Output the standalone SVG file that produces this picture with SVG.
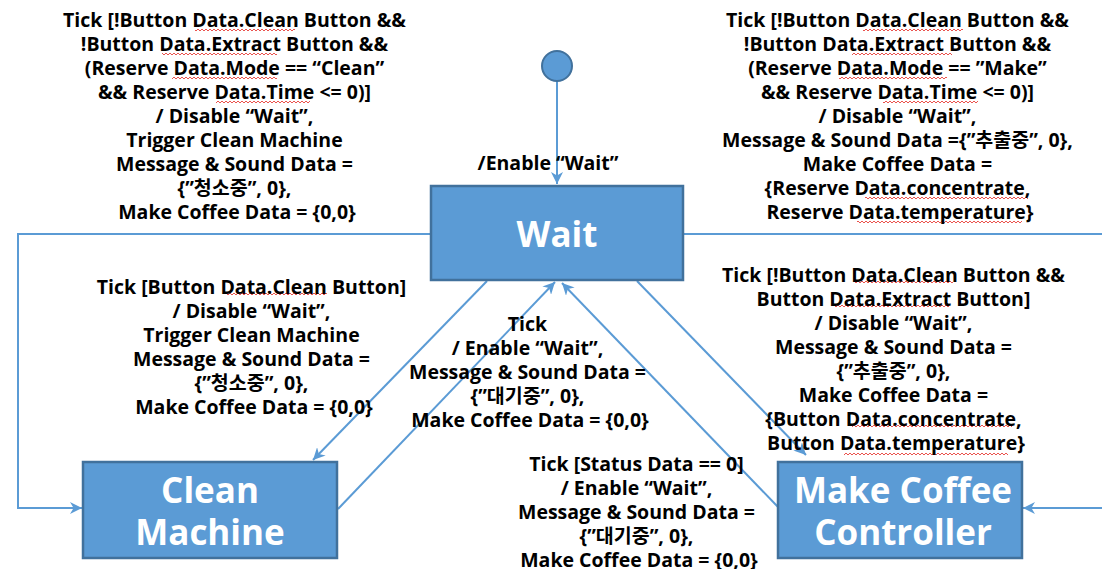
<svg xmlns="http://www.w3.org/2000/svg" width="1102" height="569" viewBox="0 0 1102 569">
<style>
.lbl{font-family:"Open Sans","Noto Sans CJK KR",sans-serif;font-weight:bold;font-size:19.5px;fill:#000;text-anchor:middle}
.node{fill:#5B9BD5;stroke:#41719C;stroke-width:2.5}
.ntxt{font-family:"Open Sans","Noto Sans CJK KR",sans-serif;font-weight:bold;font-size:35px;fill:#fff;text-anchor:middle}
.conn{fill:none;stroke:#5B9BD5;stroke-width:2}
.sq{fill:url(#wv)}
</style>
<defs>
<marker id="ah" markerWidth="12" markerHeight="12" refX="10" refY="5" orient="auto" markerUnits="userSpaceOnUse" viewBox="0 0 10 10">
<path d="M0,0 L10,5 L0,10 L3,5 z" fill="#5B9BD5"/>
</marker>
<pattern id="wv" x="0" y="0" width="4" height="4" patternUnits="userSpaceOnUse">
<path d="M0,3 L2,1 L4,3" fill="none" stroke="#E8403A" stroke-width="0.9"/>
</pattern>
</defs>
<rect width="1102" height="569" fill="#fff"/>
<g id="connectors">
<path class="conn" d="M557,81 V184" marker-end="url(#ah)"/>
<path class="conn" d="M431,234 H18 V508 H82" marker-end="url(#ah)"/>
<path class="conn" d="M683,234 H1102"/>
<path class="conn" d="M1102,508 H1023" marker-end="url(#ah)"/>
<path class="conn" d="M487,281 L313,460" marker-end="url(#ah)"/>
<path class="conn" d="M338,509 L555,282" marker-end="url(#ah)"/>
<path class="conn" d="M637,281 L806,455" marker-end="url(#ah)"/>
<path class="conn" d="M778,507 L562,283" marker-end="url(#ah)"/>
</g>
<g id="init">
<circle cx="557" cy="66" r="15" fill="#5B9BD5" stroke="#41719C" stroke-width="2"/>
</g>
<g id="wait">
<rect class="node" x="431" y="186" width="252" height="94"/>
<text class="ntxt" x="557" y="247">Wait</text>
</g>
<g id="clean">
<rect class="node" x="83" y="462" width="254" height="96"/>
<text class="ntxt" x="210" y="503">Clean</text>
<text class="ntxt" x="210" y="545">Machine</text>
</g>
<g id="make">
<rect class="node" x="778" y="462" width="244" height="96"/>
<text class="ntxt" x="903" y="503">Make Coffee</text>
<text class="ntxt" x="903" y="545">Controller</text>
</g>
<g id="spellmarks">
<rect class="sq" x="195" y="28" width="100" height="4"/>
<rect class="sq" x="162" y="52" width="115" height="4"/>
<rect class="sq" x="172" y="76" width="105" height="4"/>
<rect class="sq" x="216" y="100" width="94" height="4"/>
<rect class="sq" x="863" y="28" width="100" height="4"/>
<rect class="sq" x="852" y="52" width="100" height="4"/>
<rect class="sq" x="839" y="76" width="108" height="4"/>
<rect class="sq" x="883" y="100" width="95" height="4"/>
<rect class="sq" x="865" y="196" width="163" height="4"/>
<rect class="sq" x="857" y="220" width="165" height="4"/>
<rect class="sq" x="225" y="292" width="102" height="4"/>
<rect class="sq" x="854" y="280" width="99" height="4"/>
<rect class="sq" x="834" y="304" width="115" height="4"/>
<rect class="sq" x="852" y="424" width="160" height="4"/>
<rect class="sq" x="844" y="452" width="164" height="4"/>
</g>
<g id="labels">
<text class="lbl" x="548" y="170">/Enable “Wait”</text>
<text class="lbl">
<tspan x="237" y="27">Tick [!Button Data.Clean Button &amp;&amp;</tspan>
<tspan x="237" y="51">!Button Data.Extract Button &amp;&amp;</tspan>
<tspan x="237" y="75">(Reserve Data.Mode == “Clean”</tspan>
<tspan x="237" y="99">&amp;&amp; Reserve Data.Time &lt;= 0)]</tspan>
<tspan x="237" y="123">/ Disable “Wait”,</tspan>
<tspan x="237" y="147">Trigger Clean Machine</tspan>
<tspan x="237" y="171">Message &amp; Sound Data =</tspan>
<tspan x="237" y="195">{”청소중”, 0},</tspan>
<tspan x="237" y="219">Make Coffee Data = {0,0}</tspan>
</text>
<text class="lbl">
<tspan x="900" y="27">Tick [!Button Data.Clean Button &amp;&amp;</tspan>
<tspan x="900" y="51">!Button Data.Extract Button &amp;&amp;</tspan>
<tspan x="900" y="75">(Reserve Data.Mode == ”Make”</tspan>
<tspan x="900" y="99">&amp;&amp; Reserve Data.Time &lt;= 0)]</tspan>
<tspan x="900" y="123">/ Disable “Wait”,</tspan>
<tspan x="900" y="147">Message &amp; Sound Data ={”추출중”, 0},</tspan>
<tspan x="900" y="171">Make Coffee Data =</tspan>
<tspan x="900" y="195">{Reserve Data.concentrate,</tspan>
<tspan x="900" y="219">Reserve Data.temperature}</tspan>
</text>
<text class="lbl">
<tspan x="254" y="294">Tick [Button Data.Clean Button]</tspan>
<tspan x="254" y="318">/ Disable “Wait”,</tspan>
<tspan x="254" y="342">Trigger Clean Machine</tspan>
<tspan x="254" y="366">Message &amp; Sound Data =</tspan>
<tspan x="254" y="390">{”청소중”, 0},</tspan>
<tspan x="254" y="414">Make Coffee Data = {0,0}</tspan>
</text>
<text class="lbl">
<tspan x="530" y="331">Tick</tspan>
<tspan x="530" y="355">/ Enable “Wait”,</tspan>
<tspan x="530" y="379">Message &amp; Sound Data =</tspan>
<tspan x="530" y="403">{”대기중”, 0},</tspan>
<tspan x="530" y="427">Make Coffee Data = {0,0}</tspan>
</text>
<text class="lbl">
<tspan x="896" y="282">Tick [!Button Data.Clean Button &amp;&amp;</tspan>
<tspan x="896" y="306">Button Data.Extract Button]</tspan>
<tspan x="896" y="330">/ Disable “Wait”,</tspan>
<tspan x="896" y="354">Message &amp; Sound Data =</tspan>
<tspan x="896" y="378">{”추출중”, 0},</tspan>
<tspan x="896" y="402">Make Coffee Data =</tspan>
<tspan x="896" y="426">{Button Data.concentrate,</tspan>
<tspan x="896" y="450">Button Data.temperature}</tspan>
</text>
<text class="lbl">
<tspan x="639" y="471">Tick [Status Data == 0]</tspan>
<tspan x="639" y="495">/ Enable “Wait”,</tspan>
<tspan x="639" y="519">Message &amp; Sound Data =</tspan>
<tspan x="639" y="543">{”대기중”, 0},</tspan>
<tspan x="639" y="567">Make Coffee Data = {0,0}</tspan>
</text>
</g>
</svg>
